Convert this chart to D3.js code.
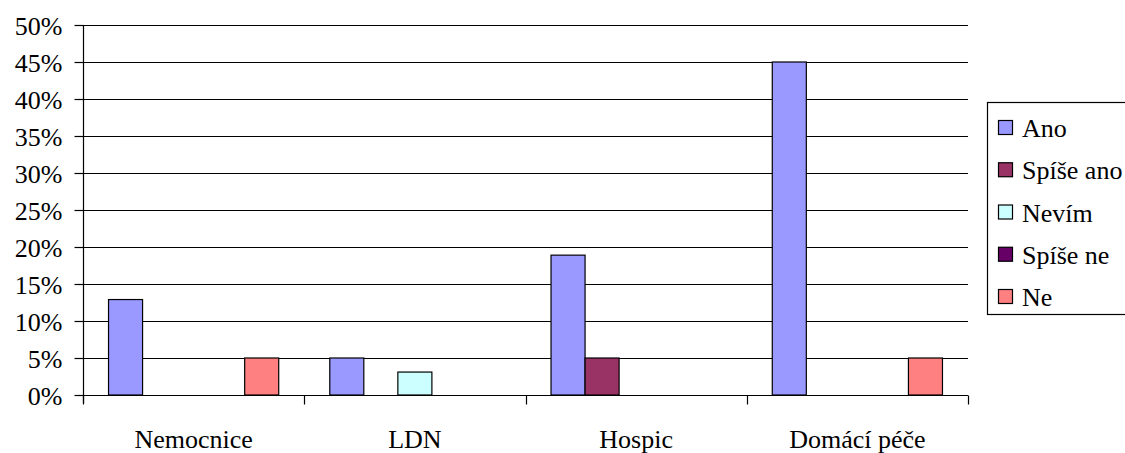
<!DOCTYPE html>
<html><head><meta charset="utf-8">
<script src="https://cdn.jsdelivr.net/npm/d3@7"></script>
<style>
html,body{margin:0;padding:0;background:#fff;}
svg{display:block;}
svg text{fill:#000;}
</style></head>
<body>
<svg id="chart" width="1125" height="453"></svg>
<script>
const categories = ["Nemocnice", "LDN", "Hospic", "Domácí péče"];
const seriesNames = ["Ano", "Spíše ano", "Nevím", "Spíše ne", "Ne"];
const seriesColors = ["#9999FF", "#993366", "#CCFFFF", "#660066", "#FF8080"];
const valAno      = [12.9, 5, 18.9, 45];
const valSpiseAno = [0, 0, 5, 0];
const valNevim    = [0, 3.1, 0, 0];
const valSpiseNe  = [0, 0, 0, 0];
const valNe       = [5, 0, 0, 5];
const yTicks = [0, 5, 10, 15, 20, 25, 30, 35, 40, 45, 50];

const seriesValues = [valAno, valSpiseAno, valNevim, valSpiseNe, valNe];
const FONT = "Tinos, 'Liberation Serif', LiberationSerif, 'Times New Roman', Times, 'Nimbus Roman', 'Nimbus Roman No9 L', FreeSerif, 'Noto Serif', 'DejaVu Serif', serif";

const svg = d3.select("#chart");
const L = 83, R = 968, T = 25, B = 395;

const y = d3.scaleLinear().domain([0, 50]).range([B, T]);
const x0 = d3.scaleBand().domain(categories).range([L, R]).padding(0);
const x1 = d3.scaleBand().domain(seriesNames).range([0, x0.bandwidth()]).paddingInner(0).paddingOuter(0.75);

// gridlines
svg.append("g").selectAll("line").data(yTicks.filter(d => d > 0)).join("line")
  .attr("x1", L).attr("x2", R)
  .attr("y1", d => Math.round(y(d)) + 0.5).attr("y2", d => Math.round(y(d)) + 0.5)
  .attr("stroke", "#000").attr("stroke-width", 1.2);

// bars
const barData = [];
categories.forEach((c, ci) => {
  seriesNames.forEach((s, si) => {
    const v = seriesValues[si][ci];
    if (v > 0) barData.push({c, s, v, color: seriesColors[si]});
  });
});
svg.append("g").selectAll("rect").data(barData).join("rect")
  .attr("x", d => x0(d.c) + x1(d.s))
  .attr("y", d => y(d.v))
  .attr("width", x1.bandwidth())
  .attr("height", d => y(0) - y(d.v))
  .attr("fill", d => d.color)
  .attr("stroke", "#000").attr("stroke-width", 1.2);

// y axis
const yAxis = d3.axisLeft(y).tickValues(yTicks).tickFormat(d => d + "%").tickSize(9).tickPadding(12);
const gy = svg.append("g").attr("transform", `translate(${L + 0.5},0)`).call(yAxis)
  .attr("font-family", FONT).attr("font-size", 26);
gy.select(".domain").attr("stroke", "#000").attr("stroke-width", 1.2).attr("d", `M0,${T}V${B + 8}`);
gy.selectAll(".tick line").attr("stroke", "#000").attr("stroke-width", 1.2);
gy.selectAll(".tick text").style("font-family", FONT).attr("font-size", 26).attr("dy", "0.36em");

// x axis
const gx = svg.append("g").attr("transform", `translate(0,${B + 0.5})`);
gx.append("line").attr("x1", L).attr("x2", R).attr("y1", 0).attr("y2", 0).attr("stroke", "#000").attr("stroke-width", 1.2);
const tickXs = categories.map(c => x0(c)).concat([x0(categories[categories.length - 1]) + x0.bandwidth()]);
gx.selectAll("line.t").data(tickXs).join("line").attr("class", "t")
  .attr("x1", d => Math.round(d) + 0.5).attr("x2", d => Math.round(d) + 0.5)
  .attr("y1", 0).attr("y2", 9).attr("stroke", "#000").attr("stroke-width", 1.2);
gx.selectAll("text").data(categories).join("text")
  .attr("x", d => x0(d) + x0.bandwidth() / 2)
  .attr("y", 52)
  .attr("text-anchor", "middle")
  .style("font-family", FONT)
  .attr("font-size", 26)
  .text(d => d);

// legend
const lg = svg.append("g");
lg.append("rect").attr("x", 987.5).attr("y", 102.5).attr("width", 160).attr("height", 212)
  .attr("fill", "#fff").attr("stroke", "#000").attr("stroke-width", 1.2);
const rowY = d3.scalePoint().domain(seriesNames).range([128, 297]);
const items = lg.selectAll("g.item").data(seriesNames).join("g").attr("class", "item")
  .attr("transform", d => `translate(0,${rowY(d)})`);
items.append("rect").attr("x", 998.5).attr("y", -7.5).attr("width", 14).attr("height", 14)
  .attr("fill", (d, i) => seriesColors[i]).attr("stroke", "#000").attr("stroke-width", 1.2);
items.append("text").attr("x", 1022).attr("y", 0).attr("dy", "0.35em")
  .style("font-family", FONT)
  .attr("font-size", 26).text(d => d);
</script>
</body></html>
